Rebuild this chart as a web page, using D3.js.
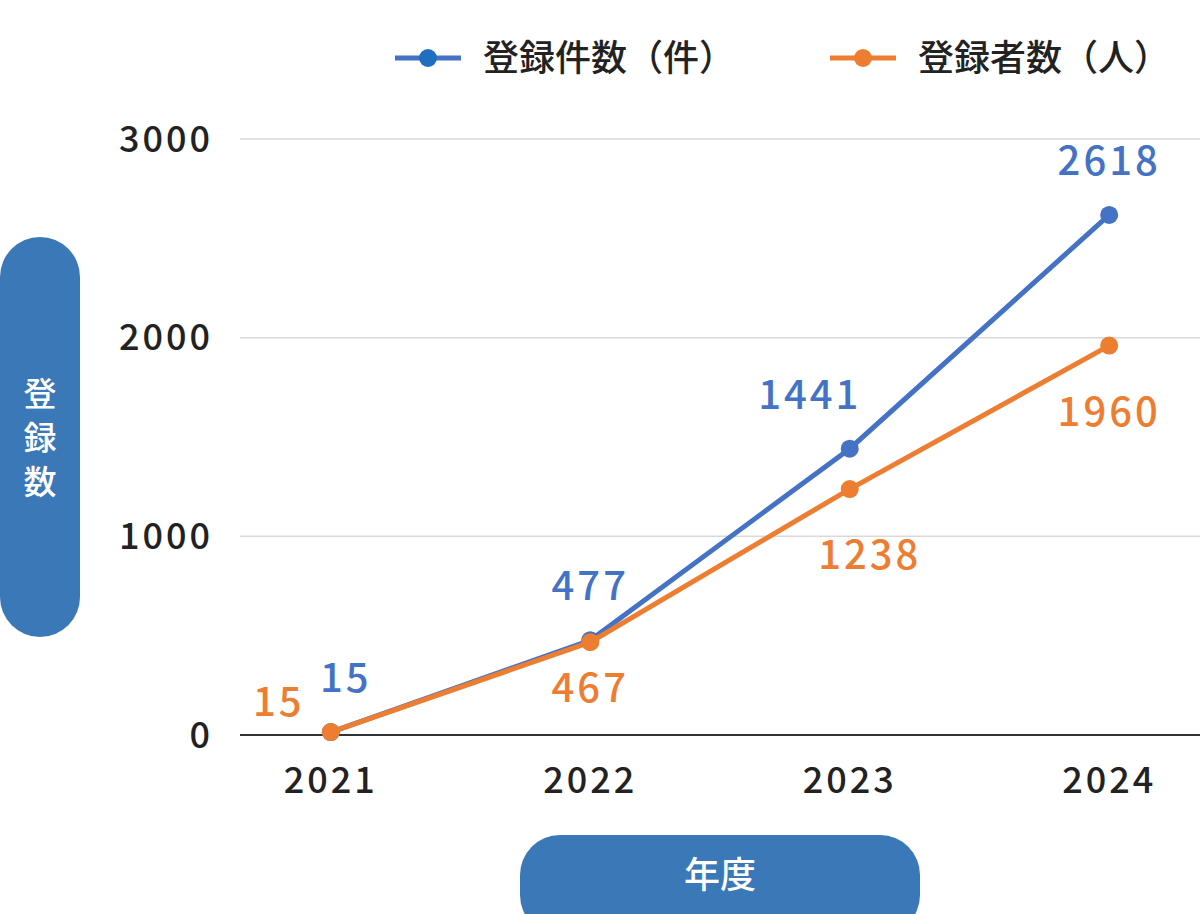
<!DOCTYPE html>
<html><head><meta charset="utf-8">
<script src="https://cdn.jsdelivr.net/npm/d3@7"></script>
<style>body{margin:0;background:#fff}svg{font-family:"Noto Sans CJK JP","Noto Sans",sans-serif;font-weight:500}</style>
</head><body><div id="chart"></div>
<script>
var years = ["2021", "2022", "2023", "2024"];
var cases = [15, 477, 1441, 2618];
var people = [15, 467, 1238, 1960];
var yTicks = [0, 1000, 2000, 3000];
var seriesNames = ["登録件数（件）", "登録者数（人）"];
var colors = ["#4472c4", "#ed7d31"];

var width = 1200, height = 914;
var svg = d3.select("#chart").append("svg").attr("width", width).attr("height", height);

var x = d3.scalePoint().domain(years).range([240, 1200]).padding(0.35);
var y = d3.scaleLinear().domain([0, 3000]).range([735, 139]);

// grid
svg.append("g").selectAll("line").data(yTicks.slice(1)).enter().append("line")
    .attr("x1", 240).attr("x2", 1200)
    .attr("y1", function(d) { return y(d); }).attr("y2", function(d) { return y(d); })
    .attr("stroke", "#d9d9d9").attr("stroke-width", 1.5);
svg.append("line").attr("x1", 240).attr("x2", 1200).attr("y1", y(0)).attr("y2", y(0))
    .attr("stroke", "#333").attr("stroke-width", 2);

// axes labels
svg.append("g").selectAll("text").data(yTicks).enter().append("text")
    .attr("x", 213).attr("y", function(d) { return y(d); }).attr("dy", "0.35em")
    .attr("text-anchor", "end").attr("font-size", 36).attr("letter-spacing", 3).attr("fill", "#222")
    .text(function(d) { return d; });
svg.append("g").selectAll("text").data(years).enter().append("text")
    .attr("x", function(d) { return x(d); }).attr("y", 793)
    .attr("text-anchor", "middle").attr("font-size", 36).attr("letter-spacing", 3).attr("fill", "#222")
    .text(function(d) { return d; });

// pills
svg.append("rect").attr("x", 0).attr("y", 237).attr("width", 80).attr("height", 400)
    .attr("rx", 40).attr("fill", "#3a78b7");
["登", "録", "数"].forEach(function(c, i) {
    svg.append("text").attr("x", 40).attr("y", 394 + i * 44).attr("dy", "0.35em")
        .attr("text-anchor", "middle").attr("font-size", 33).attr("fill", "#fff").text(c);
});
svg.append("rect").attr("x", 520).attr("y", 835).attr("width", 400).attr("height", 100)
    .attr("rx", 40).attr("fill", "#3a78b7");
svg.append("text").attr("x", 720).attr("y", 875).attr("dy", "0.35em")
    .attr("text-anchor", "middle").attr("font-size", 36).attr("fill", "#fff").text("年度");

// lines
var line = d3.line().x(function(d, i) { return x(years[i]); }).y(function(d) { return y(d); });
[cases, people].forEach(function(s, k) {
    svg.append("path").datum(s).attr("d", line).attr("fill", "none")
        .attr("stroke", colors[k]).attr("stroke-width", 5);
    svg.append("g").selectAll("circle").data(s).enter().append("circle")
        .attr("cx", function(d, i) { return x(years[i]); }).attr("cy", function(d) { return y(d); })
        .attr("r", 9).attr("fill", colors[k]);
});

// data labels: offsets per point
var caseOff = [[15, -54], [0, -54], [-40, -54], [0, -54]];
var peopleOff = [[-52, -30], [0, 46], [20, 66], [0, 66]];
[[cases, caseOff], [people, peopleOff]].forEach(function(p, k) {
    svg.append("g").selectAll("text").data(p[0]).enter().append("text")
        .attr("x", function(d, i) { return x(years[i]) + p[1][i][0]; })
        .attr("y", function(d, i) { return y(d) + p[1][i][1]; })
        .attr("dy", "0.35em").attr("text-anchor", "middle")
        .attr("font-size", 40).attr("letter-spacing", 3).attr("fill", colors[k])
        .text(function(d) { return d; });
});

// legend
var legendX = [395, 830];
seriesNames.forEach(function(n, k) {
    var g = svg.append("g").attr("transform", "translate(" + legendX[k] + ",58)");
    g.append("line").attr("x1", 0).attr("x2", 66).attr("stroke", colors[k]).attr("stroke-width", 5);
    g.append("circle").attr("cx", 33).attr("r", 9).attr("fill", k == 0 ? "#1f6fc0" : colors[k]);
    g.append("text").attr("x", 88).attr("dy", "0.35em").attr("font-size", 36)
        .attr("fill", "#222").text(n);
});
</script></body></html>
